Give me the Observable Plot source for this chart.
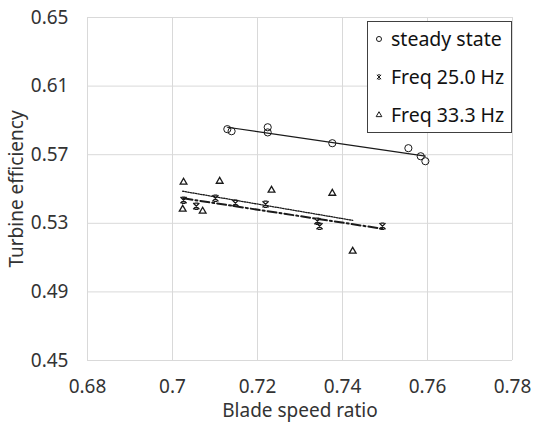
<!DOCTYPE html>
<html><head><meta charset="utf-8">
<script src="https://cdn.jsdelivr.net/npm/d3@7"></script>
<script src="https://cdn.jsdelivr.net/npm/@observablehq/plot@0.6"></script>
<style>
body{margin:0;background:#fff;font-family:"Noto Sans",sans-serif;}
#wrap{position:relative;width:535px;height:423px;}
#legend{position:absolute;left:367px;top:21px;width:143px;height:110px;border:1.3px solid #404040;background:#fff;font-size:19.5px;color:#111;}
.item{position:absolute;left:0;height:24px;display:flex;align-items:center;line-height:24px;}
.item svg{margin-left:7px;margin-right:8px;}
</style></head>
<body><div id="wrap"><div id="legend"></div></div>
<script>
const seriesNames = ["steady state", "Freq 25.0 Hz", "Freq 33.3 Hz"];
const steadyX = [0.7129, 0.7139, 0.7224, 0.7224, 0.7376, 0.7555, 0.7584, 0.7595];
const steadyY = [0.5849, 0.5837, 0.5860, 0.5830, 0.5767, 0.5738, 0.5691, 0.5662];
const f25X = [0.7026, 0.7056, 0.7101, 0.7148, 0.7219, 0.7341, 0.7346, 0.7494];
const f25Y = [0.5435, 0.5400, 0.5446, 0.5417, 0.5411, 0.5312, 0.5283, 0.5283];
const f33X = [0.7026, 0.7111, 0.7233, 0.7376, 0.7024, 0.7071, 0.7424];
const f33Y = [0.5540, 0.5545, 0.5493, 0.5475, 0.5382, 0.5371, 0.5137];
const xTicks = [0.68, 0.70, 0.72, 0.74, 0.76, 0.78];
const xTickLabels = ["0.68", "0.7", "0.72", "0.74", "0.76", "0.78"];
const yTicks = [0.45, 0.49, 0.53, 0.57, 0.61, 0.65];
const yTickLabels = ["0.45", "0.49", "0.53", "0.57", "0.61", "0.65"];

const toRows = (xs, ys, s) => xs.map((x, i) => ({x, y: ys[i], s}));
const steady = toRows(steadyX, steadyY, seriesNames[0]);
const f25 = toRows(f25X, f25Y, seriesNames[1]);
const f33 = toRows(f33X, f33Y, seriesNames[2]);

const star = {
  draw(ctx, size) {
    const h = Math.sqrt(size) / 2.3;
    ctx.moveTo(-h, -h); ctx.lineTo(h, h);
    ctx.moveTo(h, -h); ctx.lineTo(-h, h);
    ctx.moveTo(-h * 0.6, -h); ctx.lineTo(h * 0.6, -h);
    ctx.moveTo(-h * 0.6, h); ctx.lineTo(h * 0.6, h);
  }
};

const ink = "#1a1a1a";
const chart = Plot.plot({
  width: 535, height: 423,
  marginLeft: 87, marginRight: 23, marginTop: 17, marginBottom: 63,
  style: {fontFamily: "Noto Sans", fontSize: "19px", color: "#333", background: "#fff"},
  x: {domain: [0.68, 0.78], ticks: xTicks, tickFormat: d => xTickLabels[xTicks.findIndex(t => Math.abs(t - d) < 1e-9)], tickSize: 0, tickPadding: 19, label: "Blade speed ratio", labelAnchor: "center", labelOffset: 56, labelArrow: "none"},
  y: {domain: [0.45, 0.65], ticks: yTicks, tickFormat: d => yTickLabels[yTicks.findIndex(t => Math.abs(t - d) < 1e-9)], tickSize: 0, tickPadding: 19, label: "Turbine efficiency", labelAnchor: "center", labelOffset: 78, labelArrow: "none"},
  marks: [
    Plot.gridX(xTicks, {stroke: "#d9d9d9", strokeOpacity: 1, strokeWidth: 1}),
    Plot.gridY(yTicks, {stroke: "#d9d9d9", strokeOpacity: 1, strokeWidth: 1}),
    Plot.linearRegressionY(steady, {x: "x", y: "y", ci: 0, stroke: ink, strokeWidth: 1.1}),
    Plot.linearRegressionY(f25, {x: "x", y: "y", ci: 0, stroke: ink, strokeWidth: 2, strokeDasharray: "9,3,2,3"}),
    Plot.linearRegressionY(f33, {x: "x", y: "y", ci: 0, stroke: ink, strokeWidth: 1.3, strokeDasharray: "1.3,1.3"}),
    Plot.dot(steady, {x: "x", y: "y", r: 3.6, stroke: ink, strokeWidth: 1, fill: "none"}),
    Plot.dot(f25, {x: "x", y: "y", r: 4, symbol: star, stroke: ink, strokeWidth: 1.3, fill: "none"}),
    Plot.dot(f33, {x: "x", y: "y", r: 2.5, symbol: "triangle", stroke: ink, strokeWidth: 1.3, fill: "none"})
  ]
});
document.getElementById("wrap").prepend(chart);

const legend = document.getElementById("legend");
const legSym = [d3.symbolCircle, star, d3.symbolTriangle];
const legTops = [5, 43, 81];
seriesNames.forEach((name, i) => {
  const div = document.createElement("div");
  div.className = "item";
  div.style.top = legTops[i] + "px";
  const path = d3.symbol(legSym[i], i === 1 ? 24 : (i === 2 ? 14 : 20))();
  div.innerHTML = `<svg width="8" height="10" viewBox="-4 -5 8 10"><path d="${path}" fill="none" stroke="${ink}" stroke-width="1"/></svg><span>${name}</span>`;
  legend.appendChild(div);
});
</script></body></html>
